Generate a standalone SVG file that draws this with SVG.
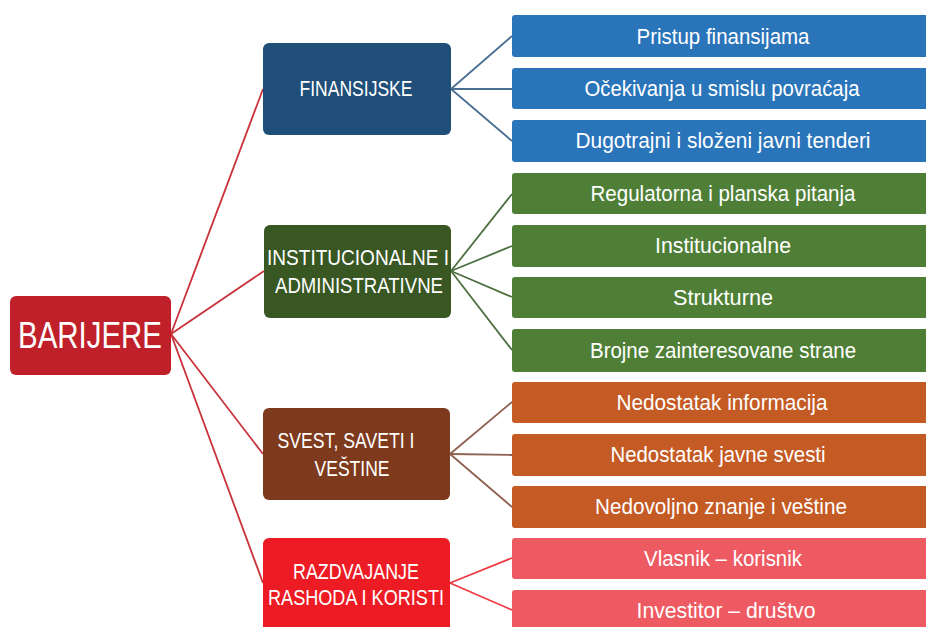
<svg xmlns="http://www.w3.org/2000/svg" width="926" height="627" viewBox="0 0 926 627">
<style>
.t{font-family:"Liberation Sans",Arial,sans-serif;fill:#fff;text-anchor:middle;font-size:22px}
.g{font-family:"Liberation Sans",Arial,sans-serif;fill:#fff;text-anchor:middle;font-size:22px}
.big{font-size:37px}
.c{fill:none;stroke-width:1.8}
</style>
<rect width="926" height="627" fill="#fff"/>
<g id="connectors">
<g stroke="#C8323A" class="c">
<line x1="171" y1="334" x2="263" y2="89"/>
<line x1="171" y1="334" x2="264" y2="271"/>
<line x1="171" y1="334" x2="263" y2="454"/>
<line x1="171" y1="334" x2="263" y2="583"/>
</g>
<g stroke="#4A6F93" class="c">
<line x1="451" y1="89" x2="512" y2="36"/>
<line x1="451" y1="89" x2="512" y2="89"/>
<line x1="451" y1="89" x2="512" y2="141"/>
</g>
<g stroke="#4E7040" class="c">
<line x1="451" y1="271" x2="512" y2="194"/>
<line x1="451" y1="271" x2="512" y2="246"/>
<line x1="451" y1="271" x2="512" y2="297"/>
<line x1="451" y1="271" x2="512" y2="350"/>
</g>
<g stroke="#8E6150" class="c">
<line x1="450" y1="454" x2="512" y2="402"/>
<line x1="450" y1="454" x2="512" y2="455"/>
<line x1="450" y1="454" x2="512" y2="507"/>
</g>
<g stroke="#EE3A42" class="c">
<line x1="450" y1="583" x2="512" y2="558"/>
<line x1="450" y1="583" x2="512" y2="610"/>
</g>
</g>
<g id="barijere">
<rect x="10" y="296" width="161" height="79" rx="6" fill="#C0202A"/>
<text x="90" y="348" class="g big" textLength="144" lengthAdjust="spacingAndGlyphs">BARIJERE</text>
</g>
<g id="finansijske">
<rect x="263" y="43" width="188" height="92" rx="6" fill="#1F4E79"/>
<text x="356" y="96" class="g" textLength="113" lengthAdjust="spacingAndGlyphs">FINANSIJSKE</text>
</g>
<g id="institucionalne">
<rect x="264" y="225" width="187" height="93" rx="6" fill="#385723"/>
<text x="358" y="265" class="g" textLength="182" lengthAdjust="spacingAndGlyphs">INSTITUCIONALNE I</text>
<text x="359" y="293" class="g" textLength="168" lengthAdjust="spacingAndGlyphs">ADMINISTRATIVNE</text>
</g>
<g id="svest">
<rect x="263" y="408" width="187" height="92" rx="6" fill="#7E3A1C"/>
<text x="346" y="448" class="g" textLength="137" lengthAdjust="spacingAndGlyphs">SVEST, SAVETI I</text>
<text x="352" y="476" class="g" textLength="75" lengthAdjust="spacingAndGlyphs">VEŠTINE</text>
</g>
<g id="razdvajanje">
<rect x="263" y="538" width="187" height="100" rx="6" fill="#ED1C24"/>
<text x="356" y="579" class="g" textLength="126" lengthAdjust="spacingAndGlyphs">RAZDVAJANJE</text>
<text x="356" y="605" class="g" textLength="176" lengthAdjust="spacingAndGlyphs">RASHODA I KORISTI</text>
</g>
<g id="pristup">
<rect x="512" y="15" width="424" height="42" rx="3" fill="#2A74B9"/>
<text x="723" y="44" class="t" textLength="173" lengthAdjust="spacingAndGlyphs">Pristup finansijama</text>
</g>
<g id="ocekivanja">
<rect x="512" y="68" width="424" height="41" rx="3" fill="#2A74B9"/>
<text x="722" y="96" class="t" textLength="275" lengthAdjust="spacingAndGlyphs">Očekivanja u smislu povraćaja</text>
</g>
<g id="dugotrajni">
<rect x="512" y="120" width="424" height="42" rx="3" fill="#2A74B9"/>
<text x="723" y="148" class="t" textLength="295" lengthAdjust="spacingAndGlyphs">Dugotrajni i složeni javni tenderi</text>
</g>
<g id="regulatorna">
<rect x="512" y="173" width="424" height="41" rx="3" fill="#4F7F37"/>
<text x="723" y="201" class="t" textLength="265" lengthAdjust="spacingAndGlyphs">Regulatorna i planska pitanja</text>
</g>
<g id="institucionalne2">
<rect x="512" y="225" width="424" height="42" rx="3" fill="#4F7F37"/>
<text x="723" y="253" class="t" textLength="136" lengthAdjust="spacingAndGlyphs">Institucionalne</text>
</g>
<g id="strukturne">
<rect x="512" y="277" width="424" height="41" rx="3" fill="#4F7F37"/>
<text x="723" y="305" class="t" textLength="100" lengthAdjust="spacingAndGlyphs">Strukturne</text>
</g>
<g id="brojne">
<rect x="512" y="329" width="424" height="43" rx="3" fill="#4F7F37"/>
<text x="723" y="358" class="t" textLength="266" lengthAdjust="spacingAndGlyphs">Brojne zainteresovane strane</text>
</g>
<g id="informacija">
<rect x="512" y="382" width="424" height="41" rx="3" fill="#C45A24"/>
<text x="722" y="410" class="t" textLength="211" lengthAdjust="spacingAndGlyphs">Nedostatak informacija</text>
</g>
<g id="svesti">
<rect x="512" y="434" width="424" height="42" rx="3" fill="#C45A24"/>
<text x="718" y="462" class="t" textLength="215" lengthAdjust="spacingAndGlyphs">Nedostatak javne svesti</text>
</g>
<g id="znanje">
<rect x="512" y="486" width="424" height="42" rx="3" fill="#C45A24"/>
<text x="721" y="514" class="t" textLength="252" lengthAdjust="spacingAndGlyphs">Nedovoljno znanje i veštine</text>
</g>
<g id="vlasnik">
<rect x="512" y="538" width="424" height="41" rx="3" fill="#EE5A62"/>
<text x="723" y="566" class="t" textLength="158" lengthAdjust="spacingAndGlyphs">Vlasnik – korisnik</text>
</g>
<g id="investitor">
<rect x="512" y="590" width="424" height="45" rx="3" fill="#EE5A62"/>
<text x="726" y="618" class="t" textLength="179" lengthAdjust="spacingAndGlyphs">Investitor – društvo</text>
</g>
</svg>
